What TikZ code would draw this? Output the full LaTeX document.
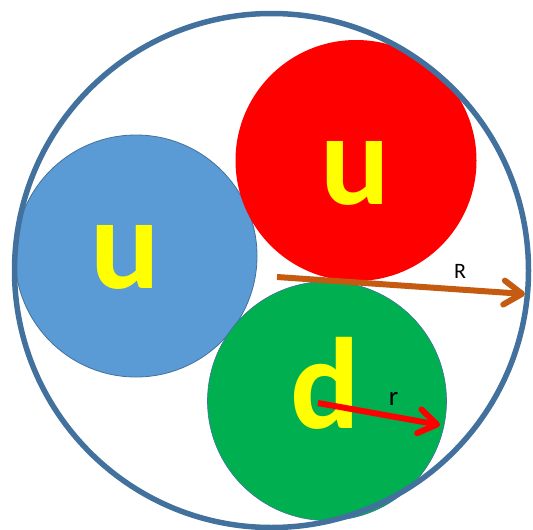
\documentclass[tikz,border=0pt]{standalone}
\usepackage{fontspec}
\setmainfont{Carlito}
\usetikzlibrary{arrows.meta}
\definecolor{ringblue}{HTML}{41719C}
\definecolor{ublue}{HTML}{5B9BD5}
\definecolor{ured}{HTML}{FF0000}
\definecolor{dgreen}{HTML}{00B050}
\definecolor{qyellow}{HTML}{FFFF00}
\definecolor{rbrown}{HTML}{C55A11}
\begin{document}
\begin{tikzpicture}[x=1pt, y=-1pt,
    quark/.style={circle, inner sep=0pt, outer sep=0pt, minimum size=#1},
    letter/.style={anchor=base, inner sep=0pt, text=qyellow, font=\fontsize{130}{130}\selectfont\bfseries},
    rarrow/.style={line width=6pt, -{Straight Barb[length=18pt, width=24pt, round]}},
    rlabel/.style={anchor=base, inner sep=0pt}]
      \useasboundingbox (0,0) rectangle (533,530);
      % quarks
      \node (u1) at (136,256) [quark=242pt, fill=ublue, draw=ringblue, line width=0.8pt] {};
      \node (u2) at (356,160.5) [quark=241pt, fill=ured] {};
      \node (d) at (327,401) [quark=239pt, fill=dgreen, draw=ringblue, line width=0.6pt] {};
      % proton
      \node (p) at (271.5,270.5) [quark=514pt, draw=ringblue, line width=5.5pt] {};
      \node (lu1) at (125,288) [letter] {u};
      \node (lu2) at (355.5,204) [letter] {u};
      \node (ld) at (325,428) [letter] {d};
      % radii
      \coordinate (c1) at (277,277);
      \coordinate (e1) at (525,294);
      \coordinate (c2) at (318,403);
      \coordinate (e2) at (440,425);
      \draw[rarrow, rbrown] (c1) -- (e1);
      \draw[rarrow, ured] (c2) -- (e2);
      \node (R) at (460,278) [rlabel, font=\fontsize{22}{22}\selectfont] {R};
      \node (r) at (393.5,405) [rlabel, font=\fontsize{27}{27}\selectfont] {r};
    \end{tikzpicture}
\end{document}
